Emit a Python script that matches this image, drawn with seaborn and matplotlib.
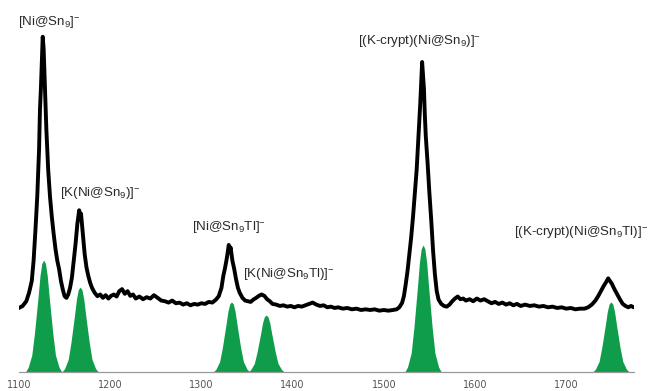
"""
plot.py - mass spectrum of Ni@Sn9 clusters with simulated isotope patterns
Run: python plot.py  ->  out.png
"""

import numpy as np
import pandas as pd
import seaborn as sns
import matplotlib
matplotlib.use("Agg")
import matplotlib.pyplot as plt

# ── 1. Data ────────────────────────────────────────────────────────────────────
# measured spectrum, m/z and relative intensity (%)
mz = [
    1100, 1104, 1108, 1111, 1114, 1116, 1118, 1120, 1122, 1123, 1124, 1125, 1126,
    1127, 1128, 1129, 1130, 1131, 1132, 1134, 1136, 1138, 1140, 1142, 1144, 1146,
    1148, 1150, 1152, 1154, 1156, 1158, 1160, 1162, 1164, 1166, 1167, 1168, 1170,
    1172, 1174, 1176, 1178, 1180, 1183, 1186, 1189, 1192, 1195, 1198, 1201, 1204,
    1207, 1210, 1213, 1216, 1219, 1222, 1225, 1228, 1232, 1236, 1240, 1244, 1248,
    1252, 1256, 1260, 1264, 1268, 1272, 1276, 1280, 1284, 1288, 1292, 1296, 1300,
    1304, 1308, 1312, 1316, 1319, 1322, 1324, 1326, 1328, 1330, 1331, 1332, 1334,
    1336, 1338, 1340, 1342, 1345, 1348, 1351, 1354, 1357, 1360, 1363, 1366, 1369,
    1372, 1375, 1378, 1382, 1386, 1390, 1394, 1398, 1402, 1406, 1410, 1414, 1418,
    1422, 1426, 1430, 1434, 1438, 1442, 1446, 1450, 1455, 1460, 1465, 1470, 1475,
    1480, 1485, 1490, 1495, 1500, 1505, 1510, 1514, 1517, 1520, 1522, 1524, 1526,
    1528, 1530, 1532, 1534, 1536, 1538, 1540, 1541, 1542, 1543, 1544, 1545, 1546,
    1548, 1550, 1552, 1554, 1556, 1558, 1560, 1563, 1566, 1569, 1572, 1575, 1578,
    1581, 1584, 1587, 1590, 1594, 1598, 1602, 1606, 1610, 1614, 1618, 1622, 1626,
    1630, 1634, 1638, 1642, 1646, 1650, 1655, 1660, 1665, 1670, 1675, 1680, 1685,
    1690, 1695, 1700, 1705, 1710, 1715, 1720, 1724, 1728, 1732, 1735, 1738, 1741,
    1744, 1746, 1748, 1750, 1753, 1756, 1759, 1762, 1765, 1768, 1771, 1774,
]
intensity = [
    19.0, 19.6, 21.0, 23.5, 27.0, 33.0, 42.0, 52.0, 66.0, 78.0, 84.0, 92.0, 99.5,
    96.0, 88.0, 80.0, 72.0, 66.0, 60.0, 52.0, 46.0, 41.0, 36.5, 33.0, 30.5, 27.0,
    24.5, 22.5, 22.0, 23.0, 25.0, 28.0, 33.0, 38.0, 44.0, 48.0, 46.5, 47.0, 41.0,
    35.0, 31.0, 28.5, 26.5, 25.0, 23.5, 22.5, 23.0, 22.0, 22.8, 21.8, 22.6, 23.0,
    22.4, 24.0, 24.6, 23.2, 24.0, 22.6, 23.0, 21.8, 22.4, 21.6, 22.2, 21.8, 22.8,
    22.0, 21.2, 21.0, 20.6, 21.2, 20.4, 20.6, 20.0, 20.4, 19.8, 20.2, 20.0, 20.4,
    20.2, 20.8, 20.6, 21.5, 22.5, 25.0, 28.5, 31.0, 34.0, 37.7, 36.0, 37.0, 33.0,
    30.5, 27.5, 25.0, 23.5, 22.0, 21.2, 21.0, 20.8, 21.5, 22.0, 22.6, 23.0, 22.6,
    21.6, 21.0, 20.2, 20.0, 19.6, 19.8, 19.4, 19.6, 19.2, 19.6, 19.4, 19.8, 20.2,
    20.6, 20.0, 19.6, 19.8, 19.2, 19.4, 19.0, 19.2, 18.8, 19.0, 18.6, 18.8, 18.4,
    18.6, 18.4, 18.6, 18.2, 18.4, 18.2, 18.4, 18.6, 19.2, 20.5, 22.5, 26.0, 30.0,
    35.0, 40.0, 46.0, 53.0, 60.0, 70.0, 80.0, 86.0, 92.0, 88.0, 84.0, 76.0, 70.0,
    62.0, 53.0, 45.0, 36.0, 29.0, 24.0, 21.5, 20.2, 19.6, 19.4, 20.0, 21.0, 21.8,
    22.4, 21.6, 21.8, 21.2, 21.6, 21.0, 21.8, 21.2, 21.6, 21.0, 20.4, 20.8, 20.2,
    20.6, 20.0, 20.4, 19.8, 20.2, 19.6, 20.0, 19.6, 19.8, 19.4, 19.6, 19.2, 19.4,
    19.0, 19.2, 18.8, 19.0, 18.6, 18.8, 18.8, 19.2, 20.0, 21.2, 22.5, 24.0, 25.5,
    26.8, 27.8, 27.0, 26.2, 24.5, 23.0, 21.5, 20.2, 19.6, 19.2, 19.6, 19.2,
]

# simulated isotope patterns: centre m/z and height (%)
sim_centers = [1127, 1167, 1333, 1371, 1543, 1749]
sim_heights = [33.2, 25.2, 20.8, 16.9, 37.7, 20.8]
# common envelope shape of one simulated pattern (offset in m/z, relative height)
shape_offset = [-20, -17, -13, -10, -6, -4, -2, 0, 2, 4, 6, 10, 13, 17, 20]
shape_rel = [0, 0.04, 0.15, 0.35, 0.68, 0.86, 0.97, 1.0, 0.97, 0.86, 0.68, 0.35, 0.15, 0.04, 0]

labels = [
    r"[Ni@Sn$_9$]$^{-}$",
    r"[K(Ni@Sn$_9$)]$^{-}$",
    r"[Ni@Sn$_9$Tl]$^{-}$",
    r"[K(Ni@Sn$_9$Tl)]$^{-}$",
    r"[(K-crypt)(Ni@Sn$_9$)]$^{-}$",
    r"[(K-crypt)(Ni@Sn$_9$Tl)]$^{-}$",
]
label_pos = [(1099, 103.9), (1145, 53.1), (1290, 43.0),
             (1346, 29.1), (1472, 98.2), (1643, 41.5)]

xticks = [1100, 1200, 1300, 1400, 1500, 1600, 1700]

# ── 2. Style ───────────────────────────────────────────────────────────────────
sns.set_style("white")
plt.rcParams["font.family"] = ["Liberation Sans", "DejaVu Sans"]
plt.rcParams["mathtext.default"] = "regular"

GREEN = "#0f9d4c"

# ── 3. Plot ────────────────────────────────────────────────────────────────────
fig = plt.figure(figsize=(6.49, 3.91), dpi=100)
ax = fig.add_axes([19 / 649, 19 / 391, 615 / 649, 372 / 391])

for c, h in zip(sim_centers, sim_heights):
    px = np.array(shape_offset) + c
    py = np.array(shape_rel) * h
    ax.fill_between(px, 0, py, color=GREEN, linewidth=0)

spec = pd.DataFrame({"mz": mz, "intensity": intensity})
sns.lineplot(data=spec, x="mz", y="intensity", color="black", linewidth=2.8, ax=ax)

for txt, (lx, ly) in zip(labels, label_pos):
    ax.text(lx, ly, txt, ha="left", va="center", fontsize=9.6, color="#2a2a2a")

ax.set_xlim(1100, 1774.3)
ax.set_ylim(0, 110.4)
ax.set_xticks(xticks)
ax.set_xticklabels([str(t) for t in xticks], family="DejaVu Sans", fontsize=7, color="#555555")
ax.set_yticks([])
ax.set_xlabel("")
ax.set_ylabel("")
ax.tick_params(axis="x", direction="out", length=3, width=0.8, color="#888888", pad=3)
for side in ["top", "left", "right"]:
    ax.spines[side].set_visible(False)
ax.spines["bottom"].set_color("#999999")
ax.spines["bottom"].set_linewidth(0.9)

plt.savefig("out.png", dpi=100)
plt.close()
